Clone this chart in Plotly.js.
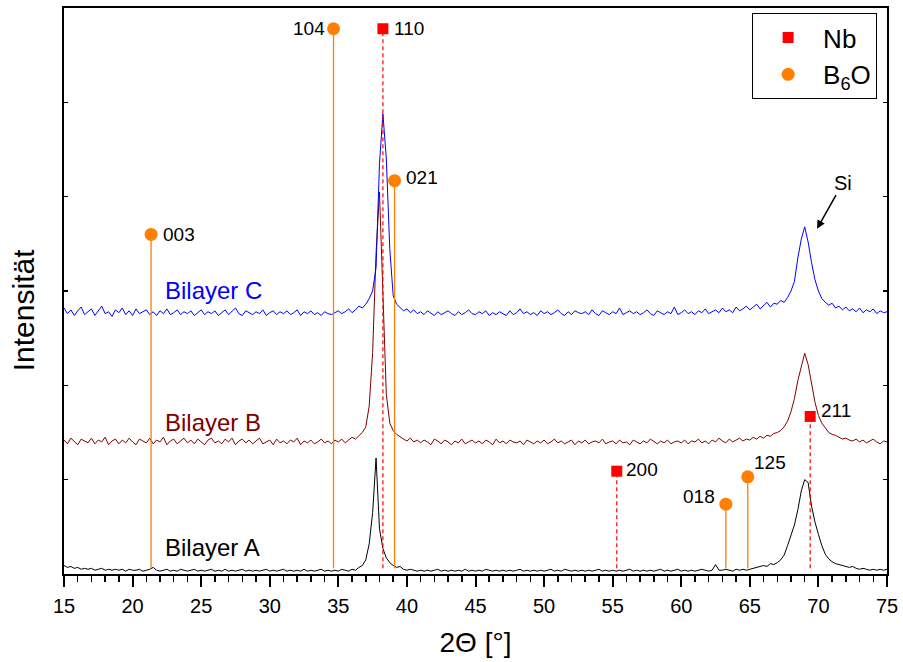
<!DOCTYPE html>
<html>
<head>
<meta charset="utf-8">
<script src="https://cdn.plot.ly/plotly-3.0.1.min.js"></script>
<style>html,body{margin:0;padding:0;background:#fff;}#chart{width:903px;height:662px;}</style>
</head>
<body>
<div id="chart"></div>
<script>
// 2Theta grid: 15° .. 75°, step 0.25° (241 points)
const thetaStart = 15, thetaStep = 0.25, thetaCount = 241;
const twoTheta = [];
for (let i = 0; i < thetaCount; i++) twoTheta.push(thetaStart + thetaStep * i);

// Intensities (stacked, arbitrary units)
const bilayerA = [
 0.09,0.07,0.08,0.06,0.07,0.05,0.06,0.05, // 15
 0.06,0.04,0.05,0.06,0.04,0.05,0.04,0.05, // 17
 0.04,0.05,0.03,0.05,0.04,0.04,0.05,0.03, // 19
 0.04,0.05,0.07,0.04,0.03,0.04,0.05,0.03, // 21
 0.04,0.03,0.05,0.04,0.03,0.04,0.05,0.03, // 23
 0.04,0.03,0.04,0.05,0.03,0.04,0.03,0.05, // 25
 0.03,0.04,0.03,0.04,0.05,0.03,0.04,0.03, // 27
 0.04,0.03,0.04,0.05,0.03,0.04,0.03,0.04, // 29
 0.05,0.03,0.04,0.03,0.04,0.03,0.05,0.03, // 31
 0.04,0.03,0.04,0.05,0.03,0.04,0.03,0.04, // 33
 0.03,0.05,0.04,0.03,0.05,0.04,0.07,0.09, // 35
 0.15,0.32,0.65,1.23,0.48,0.27,0.17,0.12, // 37
 0.09,0.07,0.08,0.05,0.04,0.05,0.04,0.03, // 39
 0.04,0.03,0.04,0.03,0.04,0.05,0.03,0.04, // 41
 0.03,0.04,0.03,0.04,0.03,0.05,0.03,0.04, // 43
 0.03,0.04,0.03,0.05,0.04,0.03,0.04,0.03, // 45
 0.04,0.03,0.04,0.03,0.04,0.05,0.03,0.04, // 47
 0.03,0.04,0.03,0.04,0.03,0.04,0.05,0.03, // 49
 0.04,0.03,0.05,0.04,0.03,0.04,0.03,0.04, // 51
 0.03,0.04,0.03,0.04,0.05,0.03,0.04,0.03, // 53
 0.04,0.03,0.04,0.03,0.04,0.05,0.03,0.04, // 55
 0.03,0.04,0.03,0.04,0.03,0.04,0.05,0.03, // 57
 0.04,0.03,0.04,0.05,0.03,0.04,0.03,0.04, // 59
 0.03,0.04,0.05,0.04,0.03,0.04,0.10,0.04, // 61
 0.04,0.05,0.04,0.03,0.05,0.04,0.05,0.04, // 63
 0.05,0.06,0.07,0.08,0.09,0.08,0.11,0.10, // 65
 0.12,0.15,0.20,0.30,0.40,0.52,0.68,0.88, // 67
 1.00,0.97,0.72,0.55,0.42,0.30,0.21,0.16, // 69
 0.13,0.11,0.10,0.09,0.08,0.07,0.08,0.06, // 71
 0.05,0.06,0.05,0.04,0.05,0.04,0.05,0.04, // 73
 0.05
];
const bilayerB = [
 1.42,1.38,1.44,1.40,1.37,1.43,1.41,1.39, // 15
 1.44,1.38,1.42,1.40,1.45,1.37,1.41,1.43, // 17
 1.38,1.42,1.39,1.44,1.40,1.37,1.43,1.41, // 19
 1.39,1.44,1.38,1.42,1.40,1.45,1.37,1.41, // 21
 1.43,1.38,1.41,1.44,1.39,1.42,1.38,1.43, // 23
 1.40,1.37,1.42,1.44,1.39,1.41,1.38,1.43, // 25
 1.40,1.44,1.37,1.41,1.43,1.39,1.42,1.38, // 27
 1.41,1.44,1.38,1.40,1.42,1.37,1.43,1.39, // 29
 1.41,1.38,1.42,1.40,1.44,1.37,1.41,1.39, // 31
 1.42,1.38,1.40,1.43,1.39,1.41,1.38,1.42, // 33
 1.40,1.43,1.39,1.42,1.45,1.43,1.47,1.50, // 35
 1.56,1.78,2.35,3.40,4.05,2.90,1.90,1.60, // 37
 1.52,1.48,1.45,1.43,1.41,1.44,1.40,1.42, // 39
 1.39,1.42,1.40,1.37,1.43,1.41,1.38,1.42, // 41
 1.40,1.37,1.41,1.39,1.43,1.38,1.40,1.42, // 43
 1.39,1.41,1.38,1.42,1.40,1.37,1.43,1.39, // 45
 1.41,1.38,1.42,1.40,1.39,1.41,1.37,1.42, // 47
 1.40,1.38,1.41,1.39,1.42,1.38,1.40,1.43, // 49
 1.39,1.41,1.38,1.40,1.42,1.37,1.41,1.39, // 51
 1.42,1.38,1.40,1.41,1.39,1.43,1.38,1.40, // 53
 1.41,1.38,1.42,1.39,1.40,1.37,1.42,1.40, // 55
 1.38,1.41,1.39,1.43,1.40,1.38,1.41,1.39, // 57
 1.42,1.38,1.40,1.41,1.39,1.42,1.38,1.41, // 59
 1.40,1.43,1.39,1.41,1.38,1.42,1.40,1.44, // 61
 1.41,1.39,1.43,1.40,1.42,1.44,1.41,1.43, // 63
 1.42,1.45,1.43,1.46,1.44,1.47,1.46,1.49, // 65
 1.50,1.52,1.56,1.62,1.72,1.86,2.05,2.20, // 67
 2.34,2.22,2.02,1.82,1.68,1.60,1.55,1.50, // 69
 1.48,1.47,1.45,1.43,1.44,1.42,1.41,1.43, // 71
 1.40,1.42,1.39,1.41,1.43,1.40,1.38,1.41, // 73
 1.40
];
const bilayerC = [
 2.82,2.76,2.80,2.74,2.79,2.83,2.75,2.78, // 15
 2.81,2.74,2.79,2.84,2.76,2.78,2.73,2.80, // 17
 2.77,2.82,2.75,2.79,2.74,2.81,2.76,2.78, // 19
 2.80,2.75,2.78,2.74,2.79,2.76,2.81,2.75, // 21
 2.77,2.80,2.75,2.78,2.76,2.79,2.74,2.77, // 23
 2.80,2.75,2.78,2.76,2.79,2.74,2.77,2.80, // 25
 2.75,2.78,2.82,2.76,2.74,2.79,2.77,2.75, // 27
 2.78,2.76,2.80,2.74,2.77,2.79,2.75,2.78, // 29
 2.76,2.79,2.75,2.77,2.80,2.74,2.78,2.76, // 31
 2.79,2.75,2.77,2.74,2.78,2.76,2.75,2.77, // 33
 2.79,2.76,2.78,2.81,2.77,2.80,2.84,2.82, // 35
 2.86,2.92,3.00,3.25,4.35,4.88,4.40,3.45, // 37
 2.95,2.86,2.82,2.79,2.81,2.77,2.80,2.76, // 39
 2.78,2.75,2.79,2.76,2.74,2.78,2.75,2.77, // 41
 2.79,2.76,2.74,2.78,2.75,2.77,2.80,2.76, // 43
 2.75,2.78,2.76,2.79,2.74,2.77,2.75,2.78, // 45
 2.76,2.74,2.79,2.75,2.77,2.81,2.76,2.78, // 47
 2.75,2.77,2.74,2.79,2.76,2.78,2.75,2.77, // 49
 2.80,2.76,2.74,2.78,2.75,2.79,2.77,2.76, // 51
 2.78,2.75,2.80,2.76,2.74,2.79,2.77,2.75, // 53
 2.78,2.76,2.82,2.75,2.77,2.79,2.76,2.78, // 55
 2.75,2.77,2.80,2.76,2.74,2.79,2.77,2.75, // 57
 2.78,2.76,2.83,2.75,2.77,2.80,2.76,2.78, // 59
 2.75,2.79,2.77,2.81,2.76,2.78,2.80,2.77, // 61
 2.82,2.78,2.80,2.77,2.83,2.79,2.81,2.84, // 63
 2.80,2.83,2.86,2.81,2.84,2.88,2.83,2.87, // 65
 2.86,2.90,2.88,2.93,3.00,3.10,3.35,3.55, // 67
 3.68,3.52,3.30,3.12,3.00,2.92,2.88,2.85, // 69
 2.87,2.82,2.84,2.80,2.83,2.79,2.81,2.78, // 71
 2.82,2.77,2.80,2.78,2.81,2.76,2.79,2.77, // 73
 2.78
];

// Reference reflections
const nbTheta = [38.25, 55.3, 69.4];
const nbMarkY = [5.78, 1.09, 1.67];
const nbHkl   = ['110', '200', '211'];
const b6oTheta = [21.35, 34.65, 39.1, 63.25, 64.85];
const b6oMarkY = [3.60, 5.78, 4.17, 0.74, 1.03];
const b6oHkl   = ['003', '104', '021', '018', '125'];
const stemBase = 0.06;

const seriesNames = ['Bilayer A', 'Bilayer B', 'Bilayer C'];
const seriesLabelY = [0.28, 1.61, 3.01];
const seriesLabelX = 22.2;

// ---- styles ----
const FONT = 'Liberation Sans, Arial, Helvetica, sans-serif';
const seriesColors = ['#000000', '#800000', '#0000FF'];
const NB_RED = '#FF0000', B6O_ORANGE = '#FF8000';
const labelStyle = {
  '110': {xanchor: 'left', xshift: 9, yshift: 0},
  '200': {xanchor: 'left', xshift: 7, yshift: 2},
  '211': {xanchor: 'left', xshift: 9, yshift: 6},
  '003': {xanchor: 'left', xshift: 10, yshift: 0},
  '104': {xanchor: 'right', xshift: -7, yshift: 0},
  '021': {xanchor: 'left', xshift: 9, yshift: 3},
  '018': {xanchor: 'right', xshift: -9, yshift: 8},
  '125': {xanchor: 'left', xshift: 4, yshift: 14}
};

const traces = [];
[bilayerA, bilayerB, bilayerC].forEach((ys, k) => {
  traces.push({x: twoTheta, y: ys, type: 'scatter', mode: 'lines', name: seriesNames[k],
    line: {color: seriesColors[k], width: 1}, showlegend: false, hoverinfo: 'skip'});
});
b6oTheta.forEach((t, k) => {
  traces.push({x: [t, t], y: [stemBase, b6oMarkY[k]], type: 'scatter', mode: 'lines',
    line: {color: B6O_ORANGE, width: 1.3}, showlegend: false, hoverinfo: 'skip'});
});
nbTheta.forEach((t, k) => {
  traces.push({x: [t, t], y: [stemBase, nbMarkY[k]], type: 'scatter', mode: 'lines',
    line: {color: NB_RED, width: 1.2, dash: '4px,3px'}, showlegend: false, hoverinfo: 'skip'});
});
traces.push({x: nbTheta, y: nbMarkY, type: 'scatter', mode: 'markers', name: 'Nb',
  marker: {symbol: 'square', size: 11, color: NB_RED}});
traces.push({x: b6oTheta, y: b6oMarkY, type: 'scatter', mode: 'markers', name: 'B<sub>6</sub>O',
  marker: {symbol: 'circle', size: 13, color: B6O_ORANGE}});

const annotations = [];
function addHkl(thetas, ys, hkls) {
  thetas.forEach((t, k) => {
    const st = labelStyle[hkls[k]];
    annotations.push({x: t, y: ys[k], text: hkls[k], showarrow: false,
      xanchor: st.xanchor, yanchor: 'middle', xshift: st.xshift, yshift: st.yshift,
      font: {family: FONT, size: 19, color: '#000'}});
  });
}
addHkl(nbTheta, nbMarkY, nbHkl);
addHkl(b6oTheta, b6oMarkY, b6oHkl);
seriesNames.forEach((n, k) => {
  annotations.push({x: seriesLabelX, y: seriesLabelY[k], text: n, showarrow: false,
    xanchor: 'left', yanchor: 'middle', font: {family: FONT, size: 24, color: seriesColors[k]}});
});
annotations.push({x: 69.9, y: 3.66, text: 'Si', showarrow: true, arrowhead: 2, arrowsize: 1.1,
  arrowwidth: 1.5, arrowcolor: '#000', ax: 26, ay: -46, standoff: 0,
  font: {family: FONT, size: 20, color: '#000'}});
// y-axis title placed as rotated annotation
annotations.push({xref: 'paper', yref: 'paper', x: -0.0498, y: 0.466, text: 'Intensität',
  textangle: -90, showarrow: false, xanchor: 'center', yanchor: 'middle',
  font: {family: FONT, size: 30, color: '#000'}});

const layout = {
  width: 903, height: 662,
  margin: {l: 64, r: 16, t: 8, b: 88},
  paper_bgcolor: '#fff', plot_bgcolor: '#fff',
  font: {family: FONT, color: '#000'},
  showlegend: true,
  legend: {x: 0.988, y: 0.991, xanchor: 'right', yanchor: 'top', bgcolor: '#fff',
    bordercolor: '#000', borderwidth: 1, font: {family: FONT, size: 26, color: '#000'},
    itemwidth: 60, tracegroupgap: 0},
  xaxis: {range: [15, 75], tick0: 15, dtick: 5, ticks: 'outside', ticklen: 11, tickwidth: 2,
    tickcolor: '#000', showline: true, linewidth: 2, linecolor: '#000', mirror: true,
    showgrid: false, zeroline: false, tickfont: {family: FONT, size: 20, color: '#000'},
    ticklabelstandoff: 2,
    minor: {dtick: 1, ticks: 'outside', ticklen: 6, tickwidth: 1.5, tickcolor: '#000', showgrid: false},
    title: {text: '2Θ [°]', font: {family: FONT, size: 28, color: '#000'}, standoff: 16}},
  xaxis2: {overlaying: 'x', anchor: 'y', side: 'top', range: [15, 75], tick0: 15, dtick: 1,
    ticks: 'inside', ticklen: 3, tickwidth: 1, tickcolor: '#444', showticklabels: false,
    showgrid: false, zeroline: false, showline: false},
  yaxis: {range: [0, 6], tick0: 0, dtick: 1, ticks: 'inside', ticklen: 4, tickwidth: 1.5,
    tickcolor: '#000', mirror: 'allticks', showline: true, linewidth: 2, linecolor: '#000',
    showticklabels: false, showgrid: false, zeroline: false},
  annotations: annotations
};

Plotly.newPlot('chart', traces, layout, {staticPlot: true, displayModeBar: false});
</script>
</body>
</html>
